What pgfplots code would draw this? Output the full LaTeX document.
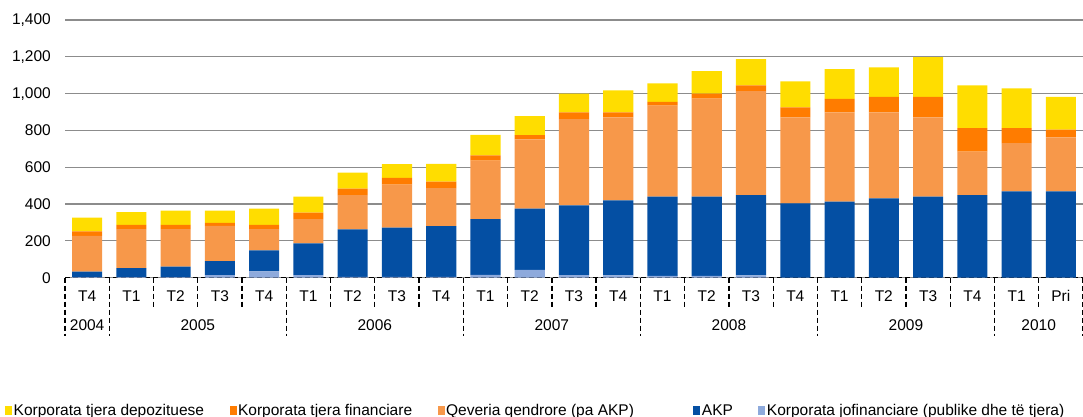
\documentclass[border=0pt]{standalone}
\usepackage{pgfplots}
\pgfplotsset{compat=1.18}
\usepackage{pgfplotstable}
\usepackage{fontspec}
\setmainfont{Liberation Sans}

\definecolor{cdep}{HTML}{FFDD00}
\definecolor{cfin}{HTML}{FF7C00}
\definecolor{cqev}{HTML}{F7984A}
\definecolor{cakp}{HTML}{044FA3}
\definecolor{cjof}{HTML}{8EAADC}

% x jof akp qev fin dep
\pgfplotstableread{
x  jof akp qev fin dep
0  3   30  194 24  76
1  3   49  212 23  69
2  3   57  204 23  78
3  14  76  192 16  67
4  35  113 116 23  88
5  14  173 131 35  87
6  5   257 187 35  87
7  5   267 233 38  74
8  5   275 207 35  96
9  15  303 318 28  112
10 42  333 376 24  103
11 14  379 469 36  102
12 12  408 451 27  120
13 10  430 495 20  101
14 10  430 533 27  122
15 12  437 564 32  142
16 1   403 467 54  142
17 1   412 485 73  162
18 1   430 467 84  160
19 1   439 431 111 216
20 1   448 236 128 232
21 1   468 262 82  216
22 1   468 293 43  177
}\flows

\begin{document}
\begin{tikzpicture}[font=\fontsize{15.5bp}{18bp}\selectfont]
\begin{axis}[
  at={(0,0)}, anchor=south west,
  scale only axis, width=1018bp, height=257.7bp,
  ybar stacked, bar width=0.68,
  xmin=-0.5, xmax=22.5, ymin=0, ymax=1400,
  ytick={0,200,...,1400},
  xtick={0,...,22},
  xticklabels={T4,T1,T2,T3,T4,T1,T2,T3,T4,T1,T2,T3,T4,T1,T2,T3,T4,T1,T2,T3,T4,T1,Pri},
  major tick length=0pt,
  axis line style={draw=none},
  ymajorgrids, grid style={line width=1.2bp, color=black!45},
  yticklabel style={inner sep=0pt, xshift=-14bp},
  xticklabel style={anchor=base, inner sep=0pt, yshift=-23.5bp},
  /pgf/number format/1000 sep={,},
  /pgf/number format/assume math mode=true,
  clip=false,
  legend columns=5, reverse legend,
  legend image code/.code={\fill[#1] (0bp,-4.5bp) rectangle (7bp,4.5bp);},
  legend style={at={(axis description cs:0,0)}, anchor=west,
    xshift=-60bp, yshift=-133bp, draw=none, fill=none, inner sep=0pt,
    nodes={inner sep=1.5bp},
    /tikz/every even column/.append style={column sep=24bp}},
]
\addplot[fill=cjof, draw=none] table[x=x, y=jof] {\flows};
\addplot[fill=cakp, draw=none] table[x=x, y=akp] {\flows};
\addplot[fill=cqev, draw=none] table[x=x, y=qev] {\flows};
\addplot[fill=cfin, draw=none] table[x=x, y=fin] {\flows};
\addplot[fill=cdep, draw=none] table[x=x, y=dep] {\flows};
\legend{Korporata jofinanciare (publike dhe të tjera),AKP,Qeveria qendrore (pa AKP)\rule{34bp}{0pt},Korporata tjera financiare,Korporata tjera depozituese}

\draw[dash pattern=on 5bp off 3bp, line width=1.3bp] (axis cs:-0.5,0) -- (axis cs:22.5,0);
\pgfplotsinvokeforeach{1.5,2.5,3.5,5.5,6.5,7.5,9.5,10.5,11.5,13.5,14.5,15.5,17.5,18.5,19.5,21.5}{
  \draw[dash pattern=on 5bp off 3bp, line width=1.3bp] (axis cs:#1,0) -- ([yshift=-30bp]axis cs:#1,0);
}
\pgfplotsinvokeforeach{-0.5,0.5,4.5,8.5,12.5,16.5,20.5,22.5}{
  \draw[dash pattern=on 5bp off 3bp, line width=1.3bp] (axis cs:#1,0) -- ([yshift=-58bp]axis cs:#1,0);
}
\node[anchor=base] at ([yshift=-53bp]axis cs:0,0) {2004};
\node[anchor=base] at ([yshift=-53bp]axis cs:2.5,0) {2005};
\node[anchor=base] at ([yshift=-53bp]axis cs:6.5,0) {2006};
\node[anchor=base] at ([yshift=-53bp]axis cs:10.5,0) {2007};
\node[anchor=base] at ([yshift=-53bp]axis cs:14.5,0) {2008};
\node[anchor=base] at ([yshift=-53bp]axis cs:18.5,0) {2009};
\node[anchor=base] at ([yshift=-53bp]axis cs:21.5,0) {2010};
\end{axis}
\pgfresetboundingbox
\useasboundingbox (-65bp,-139.3bp) rectangle (1018bp,277.7bp);
\end{tikzpicture}
\end{document}
